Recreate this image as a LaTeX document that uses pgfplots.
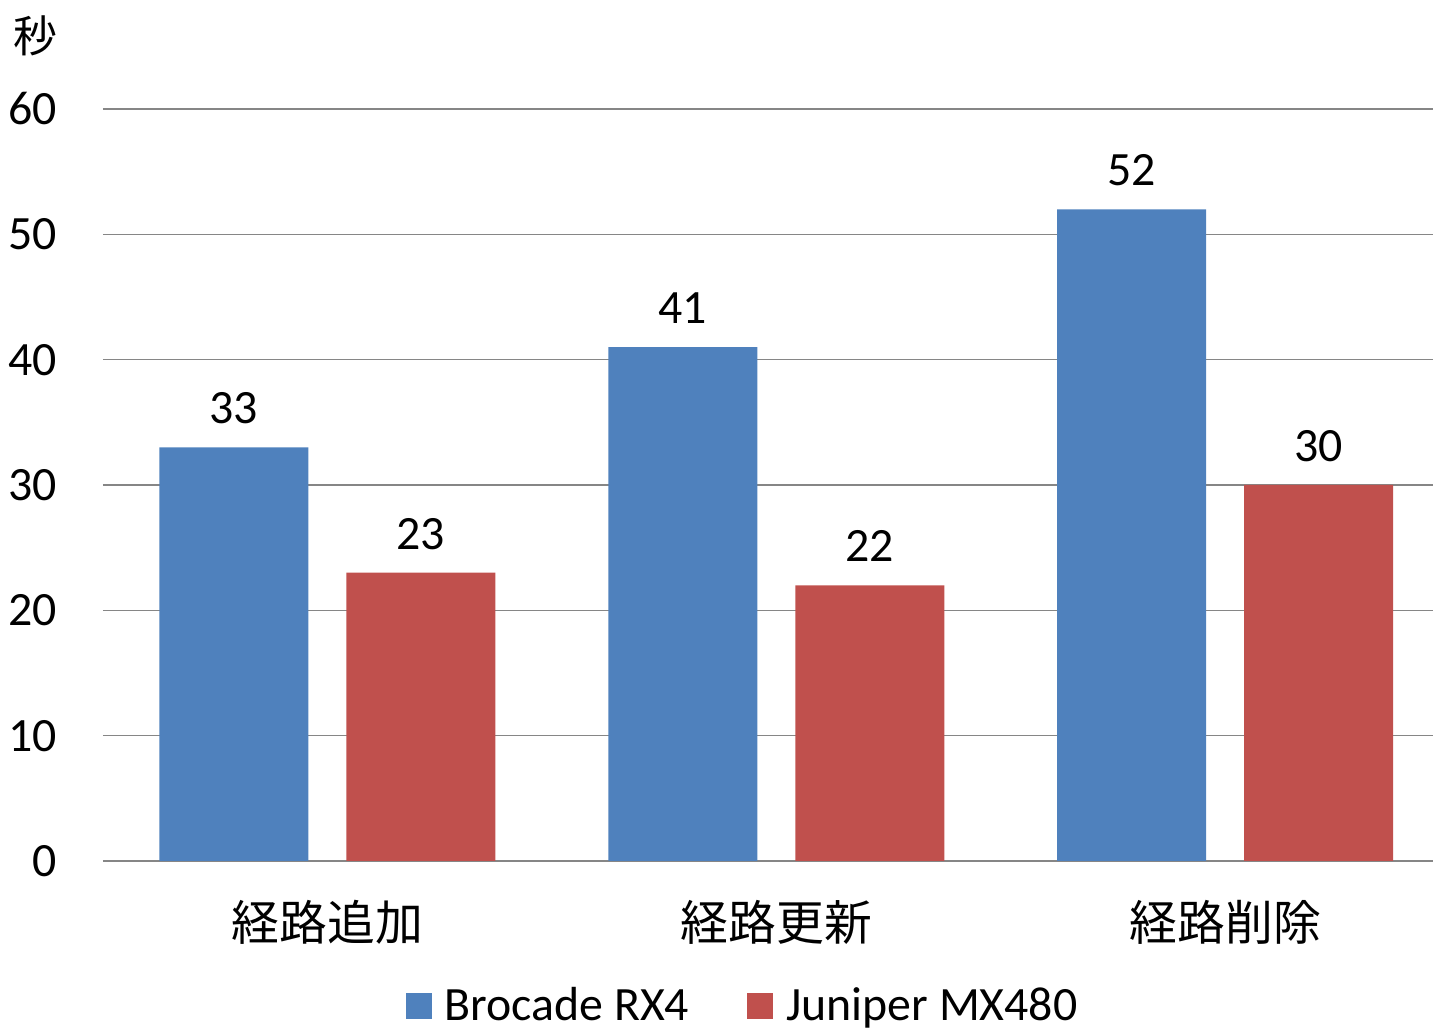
\documentclass[border=0pt]{standalone}
\usepackage{fontspec}
\setmainfont{Carlito}
\newfontfamily\cjk{Noto Sans CJK JP}
\usepackage{pgfplots}
\pgfplotsset{compat=1.18}
\definecolor{cblue}{RGB}{79,129,189}
\definecolor{cred}{RGB}{192,80,77}
\definecolor{cgrid}{RGB}{134,134,134}
\begin{document}
\begin{tikzpicture}
\useasboundingbox (0,0) rectangle (716.5bp,515.5bp);
\begin{axis}[
  at={(51.5bp,85bp)}, anchor=south west,
  scale only axis, width=665bp, height=376bp,
  /pgf/number format/assume math mode=true,
  ymin=0, ymax=60, ytick={0,10,...,60},
  xmin=-0.5, xmax=2.463,
  xtick={0,1,2}, xticklabels={経路追加,経路更新,経路削除},
  axis line style={draw=none},
  major tick length=0pt,
  ymajorgrids, grid style={cgrid, line width=0.8bp},
  yticklabel style={font=\fontsize{24}{28}\selectfont, anchor=east, inner sep=0pt, xshift=-23bp},
  xticklabel style={font=\cjk\fontsize{24}{28}\selectfont, inner sep=0pt, anchor=base, yshift=-39.5bp},
  ybar=19bp, bar width=74.5bp,
  nodes near coords,
  every node near coord/.append style={font=\fontsize{24}{28}\selectfont, inner sep=0pt, anchor=south, yshift=11.5bp, black},
  legend style={draw=none, fill=none, at={(0.4816,-0.1925)}, anchor=center, legend columns=2,
    font=\fontsize{24}{28}\selectfont,
    /tikz/every odd column/.append style={column sep=4.5bp},
    /tikz/every even column/.append style={column sep=27bp}},
  legend image code/.code={\fill[#1] (0bp,-6.5bp) rectangle (13bp,6.5bp);},
]
\addplot[fill=cblue, draw=none] coordinates {(0,33) (1,41) (2,52)};
\addplot[fill=cred, draw=none] coordinates {(0,23) (1,22) (2,30)};
\legend{Brocade RX4, Juniper MX480}
\end{axis}
\node[font=\cjk\fontsize{22}{26}\selectfont, inner sep=0pt] at (17.5bp,497.5bp) {秒};
\end{tikzpicture}
\end{document}
